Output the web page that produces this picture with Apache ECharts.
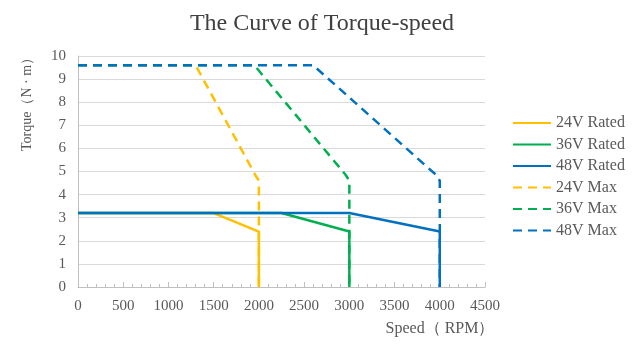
<!DOCTYPE html>
<html><head><meta charset="utf-8">
<script src="https://cdn.jsdelivr.net/npm/echarts@6/dist/echarts.min.js"></script>
<style>html,body{margin:0;padding:0;background:#fff}#c{width:644px;height:359px}</style>
</head><body><div id="c"></div>
<script>
const title = 'The Curve of Torque-speed';
const seriesNames = ['24V Rated','36V Rated','48V Rated','24V Max','36V Max','48V Max'];
const colors = ['#FFC000','#00B050','#0070C0','#FFC000','#00B050','#0070C0'];
const rated24 = [[0,3.2],[1500,3.2],[2000,2.4],[2000,0]];
const rated36 = [[0,3.2],[2250,3.2],[3000,2.4],[3000,0]];
const rated48 = [[0,3.2],[3000,3.2],[4000,2.4],[4000,0]];
const max24 = [[0,9.6],[1300,9.6],[1960,4.85],[2000,4.6],[2000,0]];
const max36 = [[0,9.6],[1950,9.6],[2960,4.85],[3000,4.6],[3000,0]];
const max48 = [[0,9.6],[2600,9.6],[3960,4.85],[4000,4.6],[4000,0]];
const seriesData = [rated24,rated36,rated48,max24,max36,max48];
const xName = 'Speed（ RPM）';
const yName = 'Torque（N · m）';
const serif = '"Liberation Serif","DejaVu Serif",serif';
const chart = echarts.init(document.getElementById('c'));
chart.setOption({
  animation:false,
  title:{text:title,left:'center',top:7,textStyle:{fontFamily:serif,fontSize:24,fontWeight:'normal',color:'#404040'}},
  grid:{left:78,right:159,top:56,bottom:72},
  legend:{orient:'vertical',left:507,top:110,itemWidth:38,itemHeight:10,itemGap:5.5,
    itemStyle:{opacity:0},
    textStyle:{fontFamily:serif,fontSize:16,color:'#595959'},data:seriesNames},
  xAxis:{type:'value',min:0,max:4500,interval:500,
    axisLine:{lineStyle:{color:'#bfbfbf'}},
    axisTick:{show:true,inside:true,length:5,lineStyle:{color:'#bfbfbf'}},
    minorTick:{show:true,splitNumber:5,length:3,lineStyle:{color:'#bfbfbf'}},
    splitLine:{show:false},
    axisLabel:{fontFamily:serif,fontSize:15,color:'#595959',margin:12,formatter:v=>String(v)}},
  yAxis:{type:'value',min:0,max:10,interval:1,
    axisLine:{show:true,lineStyle:{color:'#bfbfbf'}},
    axisTick:{show:false},
    splitLine:{lineStyle:{color:'#d9d9d9'}},
    axisLabel:{fontFamily:serif,fontSize:15,color:'#595959',margin:12}},
  graphic:[
    {type:'text',x:27,y:101,rotation:Math.PI/2,style:{text:yName,font:'14px '+serif,fill:'#595959',align:'center',verticalAlign:'middle'}},
    {type:'text',x:440,y:329,style:{text:xName,font:'16px '+serif,fill:'#595959',align:'center',verticalAlign:'middle'}}
  ],
  series:seriesNames.map((n,i)=>({
    name:n,type:'line',data:seriesData[i],symbol:'none',
    color:colors[i],
    lineStyle:{color:colors[i],width:2.5,type:i>=3?[9,6]:'solid'}
  }))
});
</script></body></html>
